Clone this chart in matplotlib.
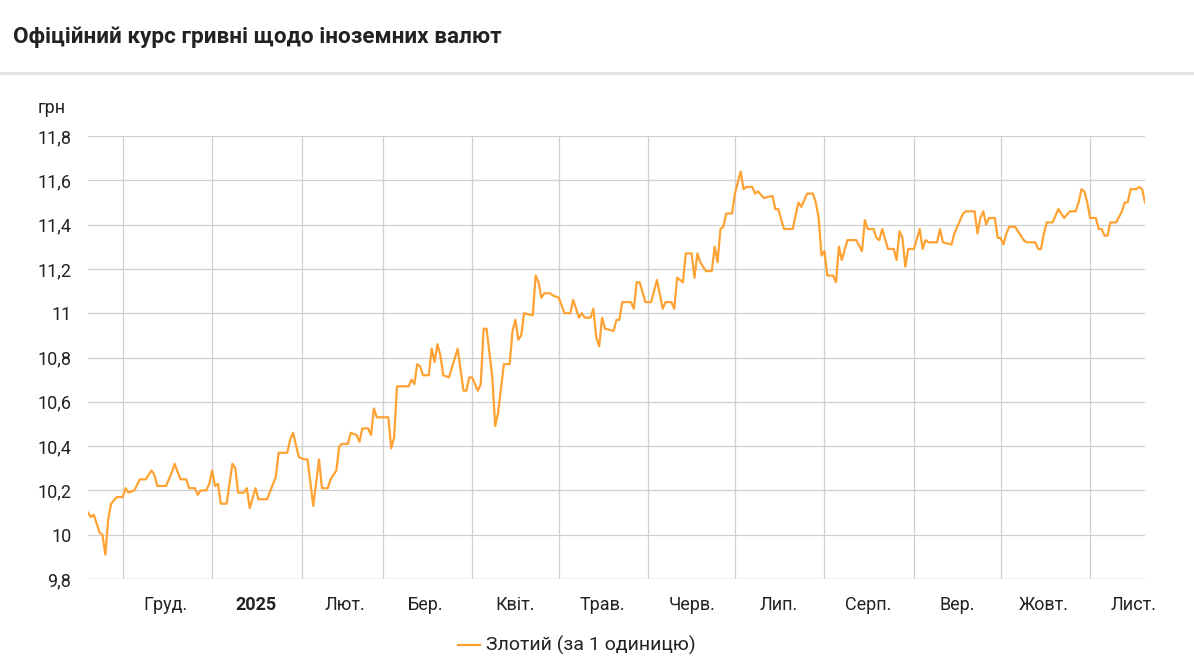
import pandas as pd
import matplotlib.pyplot as plt
import matplotlib.dates as mdates
from matplotlib.lines import Line2D

plt.rcParams['font.family'] = ['Roboto', 'DejaVu Sans']

# days counted from 1 Dec 2024, and the rate in UAH per 1 PLN
days = [-12, -11, -10, -8, -7, -6, -5, -4, -2, 0, 1, 2, 4, 6, 8, 10, 11, 12, 15, 17,
        18, 20, 22, 23, 25, 26, 27, 29, 30, 31, 32, 33, 34, 36, 38, 39, 40, 42, 43, 44,
        46, 47, 50, 53, 54, 57, 58, 59, 61, 63, 64, 66, 68, 69, 71, 72, 74, 75, 76, 78,
        79, 81, 82, 83, 85, 86, 87, 88, 89, 92, 93, 94, 95, 99, 100, 101, 102, 103, 104, 106,
        107, 108, 109, 110, 111, 113, 116, 118, 119, 120, 121, 123, 124, 125, 126, 128, 129, 130, 132, 134,
        135, 136, 137, 138, 139, 142, 143, 144, 145, 146, 148, 149, 151, 153, 155, 156, 158, 159, 160, 162,
        163, 164, 165, 166, 167, 170, 171, 172, 173, 176, 177, 178, 179, 181, 183, 185, 187, 188, 190, 191,
        192, 194, 195, 197, 198, 199, 200, 202, 204, 205, 206, 207, 208, 209, 211, 212, 214, 215, 216, 218,
        219, 220, 222, 225, 226, 227, 229, 232, 234, 235, 237, 239, 240, 241, 242, 243, 244, 246, 247, 248,
        249, 251, 253, 254, 256, 257, 258, 260, 261, 262, 263, 265, 267, 268, 269, 270, 271, 272, 274, 276,
        277, 278, 279, 282, 283, 284, 287, 288, 291, 292, 295, 296, 297, 298, 299, 300, 302, 303, 304, 305,
        306, 307, 309, 312, 313, 316, 317, 318, 319, 320, 322, 324, 326, 328, 330, 331, 332, 333, 334, 335,
        337, 338, 339, 340, 341, 342, 344, 346, 347, 348, 349, 351, 352, 353, 354]
rates = [10.10, 10.08, 10.09, 10.01, 10.00, 9.91, 10.07, 10.14, 10.17, 10.17, 10.21, 10.19, 10.20, 10.25, 10.25, 10.29, 10.27, 10.22, 10.22, 10.28,
         10.32, 10.25, 10.25, 10.21, 10.21, 10.18, 10.20, 10.20, 10.23, 10.29, 10.22, 10.23, 10.14, 10.14, 10.32, 10.30, 10.19, 10.19, 10.21, 10.12,
         10.21, 10.16, 10.16, 10.26, 10.37, 10.37, 10.43, 10.46, 10.35, 10.34, 10.34, 10.13, 10.34, 10.21, 10.21, 10.25, 10.29, 10.40, 10.41, 10.41,
         10.46, 10.45, 10.42, 10.48, 10.48, 10.45, 10.57, 10.53, 10.53, 10.53, 10.39, 10.44, 10.67, 10.67, 10.70, 10.68, 10.77, 10.76, 10.72, 10.72,
         10.84, 10.78, 10.86, 10.81, 10.72, 10.71, 10.84, 10.65, 10.65, 10.71, 10.71, 10.65, 10.68, 10.93, 10.93, 10.71, 10.49, 10.55, 10.77, 10.77,
         10.92, 10.97, 10.88, 10.90, 11.00, 10.99, 11.17, 11.14, 11.07, 11.09, 11.09, 11.08, 11.07, 11.00, 11.00, 11.06, 10.98, 11.00, 10.98, 10.98,
         11.02, 10.89, 10.85, 10.98, 10.93, 10.92, 10.97, 10.97, 11.05, 11.05, 11.02, 11.14, 11.14, 11.05, 11.05, 11.15, 11.02, 11.05, 11.05, 11.02,
         11.16, 11.14, 11.27, 11.27, 11.16, 11.27, 11.23, 11.19, 11.19, 11.30, 11.23, 11.38, 11.39, 11.45, 11.45, 11.54, 11.64, 11.56, 11.57, 11.57,
         11.54, 11.55, 11.52, 11.53, 11.47, 11.47, 11.38, 11.38, 11.50, 11.48, 11.54, 11.54, 11.50, 11.43, 11.26, 11.28, 11.17, 11.17, 11.14, 11.30,
         11.24, 11.33, 11.33, 11.33, 11.28, 11.42, 11.38, 11.38, 11.34, 11.33, 11.38, 11.29, 11.29, 11.24, 11.37, 11.34, 11.21, 11.29, 11.29, 11.38,
         11.29, 11.33, 11.32, 11.32, 11.38, 11.32, 11.31, 11.36, 11.45, 11.46, 11.46, 11.36, 11.43, 11.46, 11.40, 11.43, 11.43, 11.34, 11.34, 11.31,
         11.36, 11.39, 11.39, 11.33, 11.32, 11.32, 11.29, 11.29, 11.36, 11.41, 11.41, 11.47, 11.43, 11.46, 11.46, 11.50, 11.56, 11.55, 11.50, 11.43,
         11.43, 11.38, 11.38, 11.35, 11.35, 11.41, 11.41, 11.46, 11.50, 11.50, 11.56, 11.56, 11.57, 11.56, 11.50]

month_labels = ['Груд.', '2025', 'Лют.', 'Бер.', 'Квіт.', 'Трав.', 'Черв.',
                'Лип.', 'Серп.', 'Вер.', 'Жовт.', 'Лист.']
y_ticks = [9.8, 10, 10.2, 10.4, 10.6, 10.8, 11, 11.2, 11.4, 11.6, 11.8]

start = pd.Timestamp('2024-12-01')
dates = start + pd.to_timedelta(days, unit='D')
orange = '#ffa234'

fig = plt.figure(figsize=(11.94, 6.69), dpi=100)
fig.text(0.011, 0.945, 'Офіційний курс гривні щодо іноземних валют', fontsize=16.2,
         fontweight='bold', color='#222222', va='center')
fig.add_artist(Line2D([0, 1], [0.891, 0.891], color='#e0e0e0', lw=2))

ax = fig.add_axes([88 / 1194, 1 - 579 / 669, (1145 - 88) / 1194, (579 - 136) / 669])
ax.plot(dates, rates, color=orange, lw=1.6)

ax.set_xlim(start + pd.Timedelta(days=-12), start + pd.Timedelta(days=354))
ax.set_ylim(9.8, 11.8)
ax.set_yticks(y_ticks)
ax.set_yticklabels([f'{v:g}'.replace('.', ',') for v in y_ticks], fontsize=13, color='#222222')

month_starts = pd.date_range('2024-12-01', periods=12, freq='MS')
mids = month_starts + pd.Timedelta(days=15)
ax.set_xticks(month_starts)
ax.set_xticklabels([])
ax.set_xticks(mids, minor=True)
ax.set_xticklabels(month_labels, minor=True, fontsize=13, color='#222222')
ax.get_xticklabels(minor=True)[1].set_fontweight('bold')
ax.tick_params(axis='both', which='both', length=0, pad=12)
ax.tick_params(axis='y', pad=12)

ax.grid(True, which='major', color='#d0d0d0', lw=0.9)
for s in ax.spines.values():
    s.set_visible(False)
ax.axhline(9.8, color='#c4c4c4', lw=1)

fig.text(38 / 1194, 1 - 108 / 669, 'грн', fontsize=13, color='#222222', va='center')

fig.add_artist(Line2D([458 / 1194, 480 / 1194], [1 - 645 / 669] * 2, color=orange, lw=1.6))
fig.text(486 / 1194, 1 - 645 / 669, 'Злотий (за 1 одиницю)', fontsize=14,
         color='#222222', va='center')

fig.savefig('out.png', dpi=100)
